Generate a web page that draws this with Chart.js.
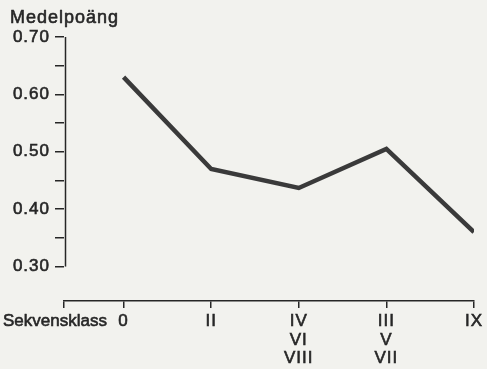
<!DOCTYPE html>
<html>
<head>
<meta charset="utf-8">
<script src="https://cdn.jsdelivr.net/npm/chart.js@4/dist/chart.umd.min.js"></script>
<style>
  html, body { margin: 0; padding: 0; background: #f2f2ee; }
  #wrap { width: 487px; height: 369px; position: relative; }
</style>
</head>
<body>
<div id="wrap"><canvas id="c" width="487" height="369"></canvas></div>
<script>
// --- Data ---
const categoryLabels = [['0'], ['II'], ['IV', 'VI', 'VIII'], ['III', 'V', 'VII'], ['IX']];
const meanScores = [0.63, 0.47, 0.437, 0.505, 0.36];
const yTickValues = [0.30, 0.35, 0.40, 0.45, 0.50, 0.55, 0.60, 0.65, 0.70];
const yAxisTitle = 'Medelpoäng';
const xAxisTitle = 'Sekvensklass';

const INK = '#262626';
const FONT = "'Liberation Sans', Arial, sans-serif";
const X_MIN = -0.68;
const STROKE_W = 0.6;

const spacingPlugin = {
  id: 'spacing',
  beforeUpdate(chart) { chart.ctx.letterSpacing = '1px'; },
  beforeLayout(chart) { chart.ctx.letterSpacing = '1px'; },
  beforeDraw(chart) { chart.ctx.letterSpacing = '1px'; }
};

function medText(ctx, s, x, y) {
  ctx.strokeText(s, x, y);
  ctx.fillText(s, x, y);
}

const extrasPlugin = {
  id: 'extras',
  afterDraw(chart) {
    const ctx = chart.ctx;
    const y = chart.scales.y;
    const left = chart.chartArea.left + 1.5;
    ctx.save();
    ctx.strokeStyle = INK;
    ctx.lineWidth = 1.5;
    ctx.beginPath();
    ctx.moveTo(left, y.getPixelForValue(yTickValues[0]));
    ctx.lineTo(left, y.getPixelForValue(yTickValues[yTickValues.length - 1]));
    ctx.stroke();
    ctx.fillStyle = INK;
    ctx.lineWidth = STROKE_W;
    ctx.lineJoin = 'round';
    ctx.textAlign = 'left';
    ctx.textBaseline = 'alphabetic';
    ctx.font = '18px ' + FONT;
    ctx.letterSpacing = '1px';
    medText(ctx, yAxisTitle, 10, 23);
    ctx.font = '17px ' + FONT;
    ctx.letterSpacing = '0px';
    medText(ctx, xAxisTitle, 3, 326);
    ctx.restore();
  }
};

new Chart(document.getElementById('c'), {
  type: 'line',
  data: {
    datasets: [{
      data: meanScores.map((v, i) => ({ x: i, y: v })),
      borderColor: '#3a3a3a',
      borderWidth: 4.5,
      pointRadius: 0,
      tension: 0,
      borderJoinStyle: 'miter',
      borderCapStyle: 'butt'
    }]
  },
  plugins: [spacingPlugin, extrasPlugin],
  options: {
    responsive: false,
    animation: false,
    devicePixelRatio: 1,
    layout: { padding: { left: 0, right: 10, top: 37, bottom: 0 } },
    plugins: { legend: { display: false }, tooltip: { enabled: false } },
    scales: {
      x: {
        type: 'linear',
        min: X_MIN,
        max: categoryLabels.length - 1,
        afterBuildTicks(scale) {
          scale.ticks = [{ value: X_MIN }].concat(categoryLabels.map((_, i) => ({ value: i })));
        },
        afterFit(scale) { scale.height = 68; },
        ticks: {
          autoSkip: false,
          maxRotation: 0,
          padding: 4,
          color: INK,
          textStrokeColor: INK,
          textStrokeWidth: STROKE_W,
          font: { family: FONT, size: 17, lineHeight: 1.1 },
          callback(v) {
            const i = Math.round(v);
            return (Math.abs(v - i) < 1e-6 && categoryLabels[i]) ? categoryLabels[i] : '';
          }
        },
        grid: { drawOnChartArea: false, drawTicks: true, tickLength: 7, color: INK, lineWidth: 1.5 },
        border: { display: true, color: INK, width: 1.5 }
      },
      y: {
        min: 0.24,
        max: 0.70,
        afterBuildTicks(scale) {
          scale.ticks = yTickValues.map(v => ({ value: v }));
        },
        afterFit(scale) { scale.width = 64; },
        ticks: {
          padding: 5,
          color: INK,
          textStrokeColor: INK,
          textStrokeWidth: STROKE_W,
          font: { family: FONT, size: 17 },
          callback(v) {
            const r = Math.round(v * 100);
            return r % 10 === 0 ? v.toFixed(2) : '';
          }
        },
        grid: { drawOnChartArea: false, drawTicks: true, tickLength: 9, color: INK, lineWidth: 1.5 },
        border: { display: false }
      }
    }
  }
});
</script>
</body>
</html>
